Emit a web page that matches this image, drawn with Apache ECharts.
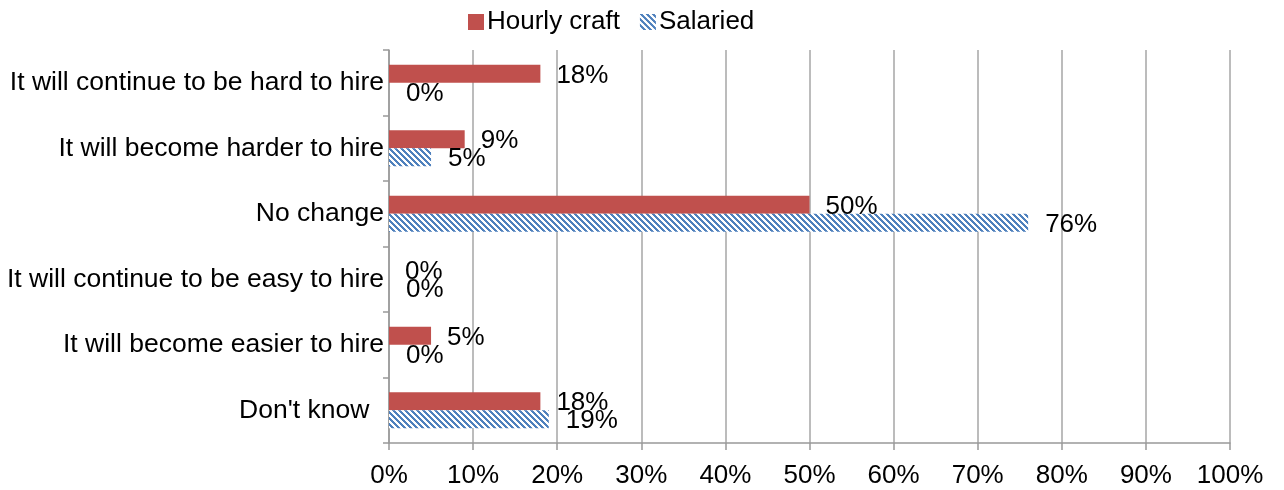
<!DOCTYPE html>
<html><head><meta charset="utf-8">
<script src="https://cdn.jsdelivr.net/npm/echarts@6/dist/echarts.min.js"></script>
<style>html,body{margin:0;padding:0;background:#fff}#c{width:1284px;height:490px}</style>
</head><body><div id="c"></div>
<script>
const categories = ["It will continue to be hard to hire","It will become harder to hire","No change","It will continue to be easy to hire","It will become easier to hire","Don't know  "];
const hourly = [18, 9, 50, 0, 5, 18];
const salaried = [0, 5, 76, 0, 0, 19];
const seriesNames = ["Hourly craft", "Salaried"];

function stripe() {
  const c = document.createElement('canvas');
  c.width = 6; c.height = 6;
  const ctx = c.getContext('2d');
  const img = ctx.createImageData(6, 6);
  for (let y = 0; y < 6; y++) for (let x = 0; x < 6; x++) {
    const i = (y * 6 + x) * 4;
    const on = (((x - y) % 6) + 6) % 6 < 3;
    if (on) { img.data[i]=79; img.data[i+1]=129; img.data[i+2]=189; }
    else { img.data[i]=255; img.data[i+1]=255; img.data[i+2]=255; }
    img.data[i+3]=255;
  }
  ctx.putImageData(img, 0, 0);
  return c;
}
const font = 'Liberation Sans, Arial, sans-serif';
const chart = echarts.init(document.getElementById('c'), null, {renderer: 'canvas'});
chart.setOption({
  animation: false,
  textStyle: {fontFamily: font},
  legend: {
    top: 4, left: 463, itemWidth: 16, itemHeight: 16, itemGap: 20, icon: 'rect',
    textStyle: {fontSize: 26, color: '#000', fontFamily: font, padding: [0, 0, 0, -2]},
    data: seriesNames
  },
  grid: {left: 389, right: 54, top: 50, bottom: 47},
  xAxis: {
    type: 'value', min: 0, max: 100, interval: 10,
    axisLine: {show: true, lineStyle: {color: '#999', width: 1.5}},
    axisTick: {show: true, length: 7, lineStyle: {color: '#999', width: 1.5}},
    splitLine: {show: true, lineStyle: {color: '#a6a6a6', width: 1.5}},
    axisLabel: {formatter: '{value}%', fontSize: 26, color: '#000', margin: 20, fontFamily: font}
  },
  yAxis: {
    type: 'category', data: categories, inverse: true,
    axisLine: {show: true, lineStyle: {color: '#999', width: 1.5}},
    axisTick: {show: true, length: 6, lineStyle: {color: '#999', width: 1.5}},
    axisLabel: {fontSize: 26.5, color: '#000', margin: 5, fontFamily: font}
  },
  series: [
    {name: seriesNames[0], type: 'bar', data: hourly, barWidth: 18, barGap: '0%',
     itemStyle: {color: '#C0504D'},
     label: {show: true, position: 'right', distance: 16, offset: [0, 2], formatter: '{c}%', fontSize: 26, color: '#000', fontFamily: font}},
    {name: seriesNames[1], type: 'bar', data: salaried, barWidth: 18, barGap: '0%',
     itemStyle: {color: {image: stripe(), repeat: 'repeat'}},
     label: {show: true, position: 'right', distance: 17, offset: [0, 2], formatter: '{c}%', fontSize: 26, color: '#000', fontFamily: font}}
  ]
});
</script></body></html>
